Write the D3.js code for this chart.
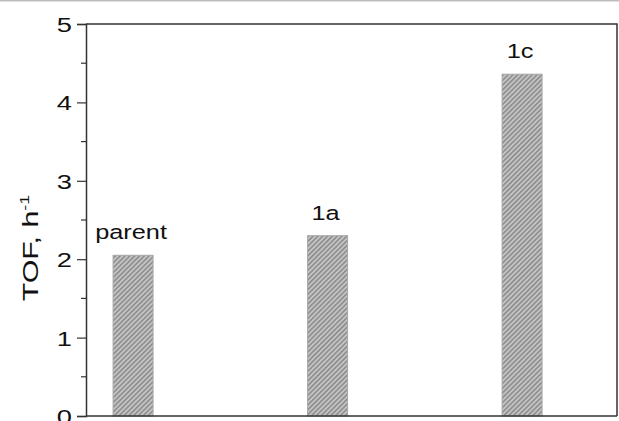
<!DOCTYPE html>
<html>
<head>
<meta charset="utf-8">
<script src="https://cdn.jsdelivr.net/npm/d3@7"></script>
<style>
  html, body { margin: 0; padding: 0; background: #fff; }
  svg { display: block; font-family: Arial, "Liberation Sans", sans-serif; }
</style>
</head>
<body>
<svg id="chart" width="619" height="421"></svg>
<script>
// Catalysts and their turnover frequencies
const categories = ["parent", "1a", "1c"];
const positions = [1, 2, 3];
const tofValues = [2.05, 2.30, 4.36];
const yTicks = [0, 1, 2, 3, 4, 5];

const W = 619, H = 421;
const margin = { left: 86, right: 2, top: 24, bottom: 5 };
const WIDE = 1.3; // horizontal stretch of the lettering

const svg = d3.select("#chart");

// Thin rule along the top edge
svg.append("line")
  .attr("x1", 0).attr("x2", W).attr("y1", 0.5).attr("y2", 0.5)
  .attr("stroke", "#bdbdbd").attr("stroke-width", 2);

const x = d3.scaleLinear()
  .domain([0.758, 3.488])
  .range([margin.left, W - margin.right]);

const y = d3.scaleLinear()
  .domain([0, 5])
  .range([H - margin.bottom, margin.top]);

// Diagonal hatching for the bars
const defs = svg.append("defs");
const pat = defs.append("pattern")
  .attr("id", "hatch")
  .attr("patternUnits", "userSpaceOnUse")
  .attr("width", 3.4).attr("height", 3.4)
  .attr("patternTransform", "rotate(45)");
pat.append("rect").attr("width", 3.4).attr("height", 3.4).attr("fill", "#c4c4c4");
pat.append("rect").attr("width", 1.5).attr("height", 3.4).attr("fill", "#8a8a8a");

const barW = 40;
const data = categories.map((c, i) => ({ name: c, pos: positions[i], v: tofValues[i] }));

svg.append("g").selectAll("rect")
  .data(data)
  .join("rect")
  .attr("x", d => x(d.pos) - barW / 2)
  .attr("width", barW)
  .attr("y", d => y(d.v))
  .attr("height", d => y(0) - y(d.v))
  .attr("fill", "url(#hatch)")
  .attr("stroke", "#a8a8a8")
  .attr("stroke-width", 1);

// Bar labels
svg.append("g").selectAll("text")
  .data(data)
  .join("text")
  .attr("transform", d => `translate(${x(d.pos) - 2},${y(d.v) - 16}) scale(${WIDE},1)`)
  .attr("text-anchor", "middle")
  .attr("font-size", 19.5)
  .attr("fill", "#111")
  .text(d => d.name);

// Frame: top and right edges
svg.append("path")
  .attr("d", `M${margin.left},${y(5)}H${W - margin.right}V${y(0)}`)
  .attr("fill", "none").attr("stroke", "#333").attr("stroke-width", 1.5);

// Bottom axis line
svg.append("line")
  .attr("x1", margin.left).attr("x2", W - margin.right)
  .attr("y1", y(0)).attr("y2", y(0))
  .attr("stroke", "#333").attr("stroke-width", 1.5);

// Left axis with major and minor ticks
const yAxis = d3.axisLeft(y).tickValues(yTicks).tickSize(9).tickPadding(0).tickFormat(d3.format("d"));
const gy = svg.append("g")
  .attr("transform", `translate(${margin.left},0)`)
  .call(yAxis);
gy.select(".domain").attr("stroke", "#333").attr("stroke-width", 1.5);
gy.selectAll(".tick line").attr("stroke", "#333").attr("stroke-width", 1.2);
gy.selectAll(".tick text")
  .attr("x", null).attr("dy", null)
  .attr("text-anchor", "end")
  .attr("transform", `translate(-14,7.5) scale(${WIDE},1)`)
  .attr("font-size", 21).attr("fill", "#111")
  .attr("font-family", "Arial, 'Liberation Sans', sans-serif");

const minor = d3.range(0.5, 5, 1);
svg.append("g").selectAll("line")
  .data(minor)
  .join("line")
  .attr("x1", margin.left - 5).attr("x2", margin.left)
  .attr("y1", d => y(d)).attr("y2", d => y(d))
  .attr("stroke", "#333").attr("stroke-width", 1.2);

// Y axis title
const title = svg.append("text")
  .attr("transform", `translate(38,248) rotate(-90) scale(1.38,1)`)
  .attr("text-anchor", "middle")
  .attr("font-size", 22)
  .attr("fill", "#111");
title.append("tspan").text("TOF, h");
title.append("tspan").attr("dy", -9).attr("font-size", 13).text("-1");
</script>
</body>
</html>
